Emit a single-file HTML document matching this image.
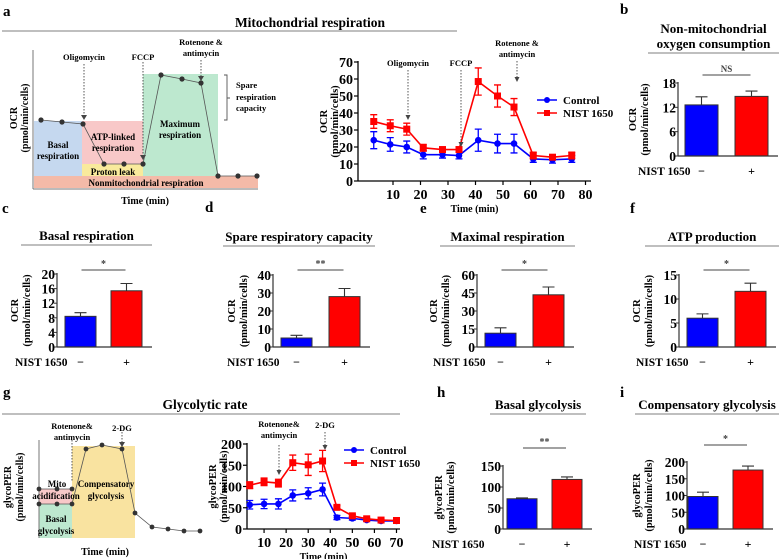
<!DOCTYPE html>
<html><head><meta charset="utf-8">
<style>
html,body{margin:0;padding:0;background:#fff;}
svg{display:block;font-family:"Liberation Serif",serif;font-weight:bold;}
</style></head>
<body>
<svg id="fig" width="779" height="559" viewBox="0 0 779 559" xmlns="http://www.w3.org/2000/svg">
<g>
 <text x="3" y="16" font-size="15">a</text>
 <text x="310" y="27" font-size="13.5" text-anchor="middle">Mitochondrial respiration</text>
 <line x1="2" y1="31" x2="457" y2="31" stroke="#999" stroke-width="1.2"/>
 <rect x="34" y="121" width="48" height="55" fill="#c5d8ef"/>
 <rect x="82" y="121" width="61" height="43" fill="#f8c8c8"/>
 <rect x="82" y="164" width="61" height="12" fill="#f9ea9c"/>
 <rect x="143" y="74" width="75" height="102" fill="#bde8cf"/>
 <rect x="34" y="176" width="224" height="12" fill="#f4baa8"/>
 <line x1="33" y1="50" x2="33" y2="189" stroke="#777"/>
 <line x1="33" y1="189" x2="258" y2="189" stroke="#777"/>
 <polyline points="41,120 62,122 83,124 104,164 124,164 143,164 161,75 182,79 201,83 218,176 238,176 257,176" fill="none" stroke="#555" stroke-width="0.8"/>
 <g fill="#333">
  <circle cx="41" cy="120" r="2.6"/><circle cx="62" cy="122" r="2.6"/><circle cx="83" cy="124" r="2.6"/>
  <circle cx="104" cy="164" r="2.6"/><circle cx="124" cy="164" r="2.6"/><circle cx="143" cy="164" r="2.6"/>
  <circle cx="161" cy="75" r="2.6"/><circle cx="182" cy="79" r="2.6"/><circle cx="201" cy="83" r="2.6"/>
  <circle cx="218" cy="176" r="2.6"/><circle cx="238" cy="176" r="2.6"/><circle cx="257" cy="176" r="2.6"/>
 </g>
 <g stroke="#444" stroke-dasharray="1.5,1.5" stroke-width="0.9">
  <line x1="84" y1="64" x2="84" y2="116"/><line x1="143" y1="62" x2="143" y2="156"/><line x1="201" y1="60" x2="201" y2="77"/>
 </g>
 <g fill="#444"><path d="M81,115 L87,115 L84,120Z"/><path d="M140,155 L146,155 L143,160Z"/><path d="M198,76 L204,76 L201,81Z"/></g>
 <g font-size="8.5" text-anchor="middle">
  <text x="84" y="60">Oligomycin</text><text x="143" y="60">FCCP</text>
  <text x="201" y="45">Rotenone &amp;</text><text x="201" y="56">antimycin</text>
  <text x="236" y="88" text-anchor="start">Spare</text><text x="236" y="100" text-anchor="start">respiration</text><text x="236" y="111" text-anchor="start">capacity</text>
  <text x="58" y="148" font-size="9">Basal</text><text x="58" y="159" font-size="9">respiration</text>
  <text x="113" y="140" font-size="9">ATP-linked</text><text x="113" y="151" font-size="9">respiration</text>
  <text x="113" y="175" font-size="9">Proton leak</text>
  <text x="180" y="127" font-size="9">Maximum</text><text x="180" y="138" font-size="9">respiration</text>
  <text x="146" y="186" font-size="9">Nonmitochondrial respiration</text>
 </g>
 <path d="M224,75 H227 V120 H224 M227,98 H230" fill="none" stroke="#555" stroke-width="0.9"/>
 <text x="145" y="204" font-size="10" text-anchor="middle">Time (min)</text>
 <text transform="translate(17,118) rotate(-90)" font-size="10" text-anchor="middle">OCR</text>
 <text transform="translate(28,118) rotate(-90)" font-size="10" text-anchor="middle">(pmol/min/cells)</text>
</g>
<g>
 <text x="3" y="397" font-size="15">g</text>
 <text x="205" y="409" font-size="13.5" text-anchor="middle">Glycolytic rate</text>
 <line x1="2" y1="414" x2="400" y2="414" stroke="#999" stroke-width="1.2"/>
 <rect x="39" y="504" width="33" height="34" fill="#bde8cf"/>
 <rect x="39" y="489" width="33" height="15" fill="#f8c8c8"/>
 <rect x="72" y="446" width="63" height="92" fill="#f9e3a0"/>
 <line x1="39" y1="440" x2="39" y2="538" stroke="#777"/>
 <polyline points="39,489 57,489 72,489" fill="none" stroke="#555" stroke-width="0.8"/>
 <polyline points="39,504 57,504 72,504 86,449 102,445 122,449 135,513 152,527 168,529 184,531 200,531" fill="none" stroke="#555" stroke-width="0.8"/>
 <g fill="#333">
  <circle cx="39" cy="489" r="2.4"/><circle cx="57" cy="489" r="2.4"/><circle cx="72" cy="489" r="2.4"/>
  <circle cx="39" cy="504" r="2.4"/><circle cx="57" cy="504" r="2.4"/><circle cx="72" cy="504" r="2.4"/>
  <circle cx="86" cy="449" r="2.4"/><circle cx="102" cy="445" r="2.4"/><circle cx="122" cy="449" r="2.4"/>
  <circle cx="135" cy="513" r="2.4"/><circle cx="152" cy="527" r="2.4"/><circle cx="168" cy="529" r="2.4"/>
  <circle cx="184" cy="531" r="2.4"/><circle cx="200" cy="531" r="2.4"/>
 </g>
 <g stroke="#444" stroke-dasharray="1.5,1.5" stroke-width="0.9"><line x1="72" y1="440" x2="72" y2="482"/><line x1="122" y1="432" x2="122" y2="443"/></g>
 <path d="M119,442 L125,442 L122,447Z" fill="#444"/>
 <g font-size="8.5" text-anchor="middle">
  <text x="72" y="429">Rotenone&amp;</text><text x="72" y="440">antimycin</text><text x="122" y="431">2-DG</text>
  <text x="57" y="487" font-size="9">Mito</text><text x="56" y="499" font-size="9">acidification</text>
  <text x="106" y="487" font-size="9">Compensatory</text><text x="106" y="499" font-size="9">glycolysis</text>
  <text x="56" y="522" font-size="9">Basal</text><text x="56" y="534" font-size="9">glycolysis</text>
 </g>
 <text x="105" y="555" font-size="10" text-anchor="middle">Time (min)</text>
 <text transform="translate(11,487) rotate(-90)" font-size="10" text-anchor="middle">glycoPER</text>
 <text transform="translate(23,487) rotate(-90)" font-size="10" text-anchor="middle">(pmol/min/cells)</text>
</g>
<g id="dyn"></g>
</svg>
<script>
// ---------- Time course a ----------
const timeA = [3, 9, 15, 21, 28, 34, 41, 48, 54, 61, 68, 75];
const ctrlA = [24, 21.5, 20, 15.5, 15.5, 15, 24, 22, 22, 13, 12.5, 13];
const ctrlAErr = [5, 4, 3.5, 2.5, 2, 2, 6.5, 5.5, 5.5, 2, 2, 2];
const nistA = [35, 32.5, 30.5, 19.5, 18.5, 18.5, 58.5, 50, 43.5, 15, 14, 15];
const nistAErr = [4, 3.5, 3.5, 2, 1.5, 1.5, 8, 6.5, 5, 2, 1.5, 2];
const yTicksA = [0, 10, 20, 30, 40, 50, 60, 70];
const xTicksA = [10, 20, 30, 40, 50, 60, 70, 80];
// ---------- Time course g ----------
const timeG = [3.5, 10, 16.5, 23, 30, 36.5, 43, 50, 56.5, 63, 70];
const ctrlG = [57, 59, 59, 79, 84, 93, 27, 25, 21, 19, 19];
const ctrlGErr = [10, 11, 12, 13, 13, 15, 5, 4, 3, 3, 3];
const nistG = [103, 111, 108, 156, 151, 160, 51, 31, 24, 21, 20];
const nistGErr = [8, 9, 9, 18, 25, 25, 4, 3, 3, 3, 3];
const yTicksG = [0, 50, 100, 150, 200];
const xTicksG = [10, 20, 30, 40, 50, 60, 70];
// ---------- Bar panels ----------
const groups = ["−", "+"];
const valsB = [12.6, 14.7]; const errsB = [2.0, 1.3]; const ticksB = [0, 6, 12, 18];
const valsC = [8.4, 15.4]; const errsC = [1.0, 2.0]; const ticksC = [0, 4, 8, 12, 16, 20];
const valsD = [5, 28]; const errsD = [1.5, 4.5]; const ticksD = [0, 10, 20, 30, 40];
const valsE = [11.5, 43.5]; const errsE = [4.5, 6.5]; const ticksE = [0, 15, 30, 45, 60];
const valsF = [6, 11.6]; const errsF = [0.9, 1.7]; const ticksF = [0, 5, 10, 15];
const valsH = [72, 118]; const errsH = [2, 6]; const ticksH = [0, 50, 100, 150];
const valsI = [97, 176]; const errsI = [13, 12]; const ticksI = [0, 50, 100, 150, 200];

const NS = "http://www.w3.org/2000/svg";
const root = document.getElementById('dyn');
function el(tag, attrs, parent, text) {
  const e = document.createElementNS(NS, tag);
  for (const k in attrs) e.setAttribute(k, attrs[k]);
  if (text !== undefined) e.textContent = text;
  (parent || root).appendChild(e);
  return e;
}

function timeChart(o) {
  const g = el('g', {});
  
  
  const sx = v => o.x0 + v * o.kx, sy = v => o.y0 - v * o.ky;
  el('line', {x1: o.axX, y1: o.y0 - o.yMax * o.ky - 1, x2: o.axX, y2: o.y0, stroke: '#000', 'stroke-width': 1.3}, g);
  el('line', {x1: o.axX, y1: o.y0, x2: o.xEnd, y2: o.y0, stroke: '#000', 'stroke-width': 1.3}, g);
  o.yTicks.forEach(t => {
    el('line', {x1: o.axX - 4, y1: sy(t), x2: o.axX, y2: sy(t), stroke: '#000', 'stroke-width': 1.2}, g);
    const tx = el('text', {x: o.axX - 5, y: sy(t) + 5, 'font-size': 14, 'text-anchor': 'end'}, g, t);
    
    
  });
  o.xTicks.forEach(t => {
    el('line', {x1: sx(t), y1: o.y0, x2: sx(t), y2: o.y0 + 4, stroke: '#000', 'stroke-width': 1.2}, g);
    const tx = el('text', {x: sx(t), y: o.y0 + 18, 'font-size': 14, 'text-anchor': 'middle'}, g, t);
    
    
  });
  const series = [[o.ctrl, o.ctrlErr, '#0000ff', 'circle', 'series-control'], [o.nist, o.nistErr, '#ff0000', 'square', 'series-nist-1650']];
  series.forEach(([vals, errs, col, shape, nm]) => {
    const sg = el('g', {}, g);
    
    
    el('polyline', {points: o.time.map((t, i) => sx(t) + ',' + sy(vals[i])).join(' '), fill: 'none', stroke: col, 'stroke-width': 1.6}, sg);
    o.time.map((t, i) => {
      const x = sx(t), y = sy(vals[i]), yt = sy(vals[i] + errs[i]), yb = sy(vals[i] - errs[i]);
      el('path', {d: `M${x},${yt}V${yb}M${x-3.5},${yt}H${x+3.5}M${x-3.5},${yb}H${x+3.5}`, stroke: col, 'stroke-width': 1.3, fill: 'none'}, sg);
      let m;
      if (shape === 'circle') m = el('circle', {cx: x, cy: y, r: 3.3, fill: col}, sg);
      else m = el('rect', {x: x - 3.5, y: y - 3.5, width: 7, height: 7, fill: col}, sg);
      
      
    });
  });
  const lg = el('g', {}, g);
  
  
  [['#0000ff', 'circle', 'Control', o.legY], ['#ff0000', 'square', 'NIST 1650', o.legY + 13]].forEach(([c, s, lab, y]) => {
    el('line', {x1: o.legX, y1: y, x2: o.legX + 20, y2: y, stroke: c, 'stroke-width': 1.6}, lg);
    if (s === 'circle') el('circle', {cx: o.legX + 10, cy: y, r: 3, fill: c}, lg);
    else el('rect', {x: o.legX + 7, y: y - 3, width: 6, height: 6, fill: c}, lg);
    const t = el('text', {x: o.legX + 26, y: y + 4, 'font-size': 11}, lg, lab);
    
    
  });
  o.ann.forEach(a => {
    a.lines.forEach((ln, i) => el('text', {x: a.x, y: a.ty + i * 11, 'font-size': 8.5, 'text-anchor': 'middle'}, g, ln));
    el('line', {x1: a.x, y1: a.a1, x2: a.x, y2: a.a2 - 4, stroke: '#444', 'stroke-dasharray': '1.5,1.5', 'stroke-width': 0.9}, g);
    el('path', {d: `M${a.x-2.5},${a.a2-5}L${a.x+2.5},${a.a2-5}L${a.x},${a.a2}Z`, fill: '#444'}, g);
  });
  const xt = el('text', {x: (o.axX + o.xEnd) / 2, y: o.y0 + 31, 'font-size': 10, 'text-anchor': 'middle'}, g, 'Time (min)');
  
  
  const cy = o.y0 - o.yMax * o.ky / 2;
  const yt = el('text', {transform: `translate(${o.axX - 31},${cy}) rotate(-90)`, 'font-size': 10.5, 'text-anchor': 'middle'}, g, o.yl1);
  
  
  el('text', {transform: `translate(${o.axX - 20},${cy}) rotate(-90)`, 'font-size': 10.5, 'text-anchor': 'middle'}, g, '(pmol/min/cells)');
}

timeChart({name: 'panel-a-time-course', time: timeA, ctrl: ctrlA, ctrlErr: ctrlAErr, nist: nistA, nistErr: nistAErr,
  yTicks: yTicksA, xTicks: xTicksA, yMax: 70, axX: 358, x0: 365.5, kx: 2.75, y0: 181, ky: 1.7, xEnd: 591,
  legX: 537, legY: 100, yl1: 'OCR',
  ann: [{x: 408, lines: ['Oligomycin'], ty: 66, a1: 70, a2: 120}, {x: 461, lines: ['FCCP'], ty: 66, a1: 70, a2: 147},
        {x: 517, lines: ['Rotenone &', 'antimycin'], ty: 46, a1: 61, a2: 82}]});
timeChart({name: 'panel-g-time-course', time: timeG, ctrl: ctrlG, ctrlErr: ctrlGErr, nist: nistG, nistErr: nistGErr,
  yTicks: yTicksG, xTicks: xTicksG, yMax: 200, axX: 247, x0: 242, kx: 2.207, y0: 529, ky: 0.425, xEnd: 400,
  legX: 344, legY: 450, yl1: 'glycoPER',
  ann: [{x: 279, lines: ['Rotenone&', 'antimycin'], ty: 427, a1: 445, a2: 475}, {x: 325, lines: ['2-DG'], ty: 428, a1: 432, a2: 450}]});

function barPanel(o) {
  const g = el('g', {});
  
  
  const max = o.ticks[o.ticks.length - 1];
  const sy = v => o.y0 - v / max * (o.y0 - o.yTop);
  const pl = el('text', {x: o.lx, y: o.ly, 'font-size': 15}, g, o.letter);
  
  
  o.title.forEach((t, i) => {
    const tt = el('text', {x: (o.u1 + o.u2) / 2, y: o.ty + i * 15, 'font-size': 13, 'text-anchor': 'middle'}, g, t);
    
    
  });
  el('line', {x1: o.u1, y1: o.uy, x2: o.u2, y2: o.uy, stroke: '#999', 'stroke-width': 1.2}, g);
  const cols = ['#0000ff', '#ff0000'];
  const names = ['bar-control', 'bar-nist-1650'];
  o.vals.forEach((v, i) => {
    const x = o.bx[i], top = sy(v), et = sy(v + o.errs[i]);
    el('path', {d: `M${x + o.w/2},${top}V${et}M${x + o.w/2 - 6},${et}H${x + o.w/2 + 6}`, stroke: '#333', 'stroke-width': 1.1, fill: 'none'}, g);
    const b = el('rect', {x: x, y: top, width: o.w, height: o.y0 - top, fill: cols[i], stroke: '#333', 'stroke-width': 1}, g);
    
    
    const gl = el('text', {x: x + o.w/2, y: o.y0 + 19, 'font-size': 12, 'text-anchor': 'middle'}, g, groups[i]);
    
    
  });
  el('line', {x1: o.ax, y1: o.yTop - 1, x2: o.ax, y2: o.y0, stroke: '#333', 'stroke-width': 1.2}, g);
  el('line', {x1: o.ax, y1: o.y0, x2: o.bx[1] + o.w + 10, y2: o.y0, stroke: '#333', 'stroke-width': 1.2}, g);
  o.ticks.forEach(t => {
    el('line', {x1: o.ax - 3, y1: sy(t), x2: o.ax, y2: sy(t), stroke: '#333', 'stroke-width': 1}, g);
    const tx = el('text', {x: o.ax - 2, y: sy(t) + 5, 'font-size': 13.5, 'text-anchor': 'end'}, g, t);
    
    
  });
  const s1 = o.bx[0] + o.w / 2 + 1, s2 = o.bx[1] + o.w / 2 - 1;
  el('line', {x1: s1, y1: o.sy, x2: s2, y2: o.sy, stroke: '#444', 'stroke-width': 0.9}, g);
  const st = el('text', {x: (s1 + s2) / 2, y: o.sy - 3, 'font-size': o.sig === 'NS' ? 9 : 10, 'text-anchor': 'middle', fill: '#444'}, g, o.sig);
  
  
  el('text', {x: o.nx, y: o.y0 + 19, 'font-size': 11.5}, g, 'NIST 1650');
  const cy = (o.y0 + o.yTop) / 2;
  const yl = el('text', {transform: `translate(${o.ylx},${cy}) rotate(-90)`, 'font-size': 10.5, 'text-anchor': 'middle'}, g, o.yl);
  
  
  el('text', {transform: `translate(${o.ylx + 12},${cy}) rotate(-90)`, 'font-size': 10.5, 'text-anchor': 'middle'}, g, '(pmol/min/cells)');
}

barPanel({name: 'panel-b', letter: 'b', lx: 620, ly: 14, title: ['Non-mitochondrial', 'oxygen consumption'], ty: 33, u1: 648, u2: 779, uy: 53,
  vals: valsB, errs: errsB, ticks: ticksB, ax: 678, y0: 156, yTop: 83, bx: [685, 735], w: 33, sig: 'NS', sy: 75, nx: 638, ylx: 636, yl: 'OCR'});
barPanel({name: 'panel-c', letter: 'c', lx: 2, ly: 213, title: ['Basal respiration'], ty: 240, u1: 21, u2: 152, uy: 245,
  vals: valsC, errs: errsC, ticks: ticksC, ax: 57, y0: 347, yTop: 274, bx: [65, 111], w: 31, sig: '*', sy: 270, nx: 15, ylx: 18, yl: 'OCR'});
barPanel({name: 'panel-d', letter: 'd', lx: 205, ly: 212, title: ['Spare respiratory capacity'], ty: 241, u1: 223, u2: 375, uy: 246,
  vals: valsD, errs: errsD, ticks: ticksD, ax: 273, y0: 347, yTop: 275, bx: [281, 329], w: 31, sig: '**', sy: 270, nx: 227, ylx: 235, yl: 'OCR'});
barPanel({name: 'panel-e', letter: 'e', lx: 420, ly: 213, title: ['Maximal respiration'], ty: 241, u1: 440, u2: 575, uy: 246,
  vals: valsE, errs: errsE, ticks: ticksE, ax: 477, y0: 347, yTop: 275, bx: [485, 533], w: 31, sig: '*', sy: 270, nx: 433, ylx: 437, yl: 'OCR'});
barPanel({name: 'panel-f', letter: 'f', lx: 630, ly: 213, title: ['ATP production'], ty: 241, u1: 645, u2: 779, uy: 246,
  vals: valsF, errs: errsF, ticks: ticksF, ax: 679, y0: 347, yTop: 275, bx: [687, 735], w: 31, sig: '*', sy: 270, nx: 636, ylx: 640, yl: 'OCR'});
barPanel({name: 'panel-h', letter: 'h', lx: 437, ly: 397, title: ['Basal glycolysis'], ty: 409, u1: 490, u2: 586, uy: 414,
  vals: valsH, errs: errsH, ticks: ticksH, ax: 503, y0: 529, yTop: 466, bx: [507, 552], w: 30, sig: '**', sy: 448, nx: 432, ylx: 442, yl: 'glycoPER'});
barPanel({name: 'panel-i', letter: 'i', lx: 620, ly: 397, title: ['Compensatory glycolysis'], ty: 409, u1: 635, u2: 779, uy: 414,
  vals: valsI, errs: errsI, ticks: ticksI, ax: 687, y0: 529, yTop: 462, bx: [688, 733], w: 30, sig: '*', sy: 445, nx: 634, ylx: 640, yl: 'glycoPER'});
</script>
</body></html>
